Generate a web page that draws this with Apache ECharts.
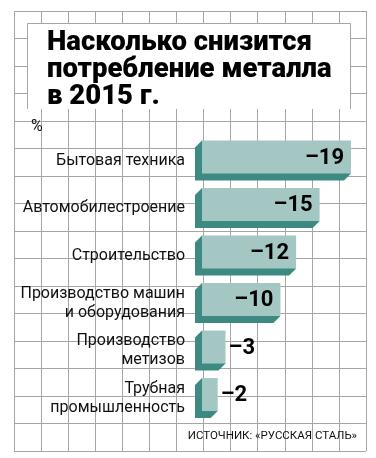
<!DOCTYPE html>
<html>
<head>
<meta charset="utf-8">
<script src="https://cdn.jsdelivr.net/npm/echarts@6/dist/echarts.min.js"></script>
<style>
  html, body { margin: 0; padding: 0; background: #fff; }
  #chart { width: 376px; height: 458px; }
</style>
</head>
<body>
<div id="chart"></div>
<script>
// данные: насколько снизится потребление металла в 2015 г., %
const categories = [
  'Бытовая техника',
  'Автомобилестроение',
  'Строительство',
  'Производство машин\nи оборудования',
  'Производство\nметизов',
  'Трубная\nпромышленность'
];
const decline = [19, 15, 12, 10, 3, 2];

const faceColor = '#a4c7c4';
const sideColor = '#3c8a82';
const gridColor = '#a6a6a6';

const chart = echarts.init(document.getElementById('chart'));

// рисуем "объёмный" столбик: лицевая грань + тень влево-вниз
function renderBar(params, api) {
  const v = api.value(0);
  const idx = api.value(1);
  const p0 = api.coord([0, idx]);
  const p1 = api.coord([v, idx]);
  const band = api.size([0, 1])[1];
  const h = band * 0.695;
  const d = 7;
  const top = p0[1] - band * 0.42;
  const bot = top + h;
  const x0 = p0[0], x1 = p1[0];
  const inside = v >= 10;
  return {
    type: 'group',
    children: [
      {
        type: 'polygon',
        shape: { points: [[x0, top], [x0 - d, top + d], [x0 - d, bot + d], [x1 - d, bot + d], [x1, bot]] },
        style: { fill: sideColor }
      },
      {
        type: 'rect',
        shape: { x: x0, y: top, width: x1 - x0, height: h },
        style: { fill: faceColor }
      },
      {
        type: 'text',
        style: {
          text: '–' + v,
          x: inside ? x1 - 7 : x1 + 3,
          y: top + h / 2 + 1,
          align: inside ? 'right' : 'left',
          verticalAlign: 'middle',
          fontFamily: 'Roboto',
          fontWeight: 'bold',
          fontSize: 22,
          fill: '#000'
        }
      }
    ]
  };
}

const option = {
  backgroundColor: '#fff',
  animation: false,
  title: {
    text: 'Насколько снизится\nпотребление металла\nв 2015 г.',
    left: 42,
    top: 25,
    z: 100,
    textStyle: {
      fontFamily: 'Roboto',
      fontWeight: 900,
      fontSize: 27.5,
      lineHeight: 27,
      color: '#000'
    }
  },
  grid: [
    { left: 202, right: 25, top: 136.75, bottom: 36.25 },
    { left: 14, right: 10, top: 11, bottom: 7 }
  ],
  xAxis: [
    { type: 'value', gridIndex: 0, min: 0, max: 19, show: false },
    {
      type: 'value', gridIndex: 1, min: 0, max: 13, interval: 1,
      axisLine: { show: false }, axisTick: { show: false }, axisLabel: { show: false },
      splitLine: { show: true, lineStyle: { color: gridColor, width: 1 } }
    }
  ],
  yAxis: [
    {
      type: 'category', gridIndex: 0, data: categories, inverse: true,
      axisLine: { show: false }, axisTick: { show: false },
      axisLabel: {
        margin: 17,
        fontFamily: 'Roboto',
        fontSize: 16,
        lineHeight: 19,
        color: '#111'
      }
    },
    {
      type: 'value', gridIndex: 1, min: 0, max: 16, interval: 1, inverse: true,
      axisLine: { show: false }, axisTick: { show: false }, axisLabel: { show: false },
      splitLine: { show: true, lineStyle: { color: gridColor, width: 1 } }
    }
  ],
  graphic: [
    {
      type: 'rect', z: 50,
      shape: { x: 27, y: 23, width: 323, height: 86 },
      style: { fill: '#fff' }
    },
    {
      type: 'polyline', z: 51,
      shape: { points: [[27.5, 109], [27.5, 23.5], [350.5, 23.5], [350.5, 109]] },
      style: { stroke: gridColor, lineWidth: 1, fill: null }
    },
    {
      type: 'text', z: 60, left: 31, top: 119,
      style: { text: '%', fontFamily: 'Roboto', fontSize: 16, fill: '#111' }
    },
    {
      type: 'text', z: 60, right: 19, top: 430,
      style: {
        text: 'ИСТОЧНИК: «РУССКАЯ СТАЛЬ»',
        fontFamily: 'Roboto',
        fontSize: 11.5, fill: '#111'
      }
    }
  ],
  series: [
    {
      type: 'custom',
      xAxisIndex: 0,
      yAxisIndex: 0,
      renderItem: renderBar,
      encode: { x: 0, y: 1 },
      data: decline.map((v, i) => [v, i]),
      z: 10
    }
  ]
};

chart.setOption(option);
</script>
</body>
</html>
